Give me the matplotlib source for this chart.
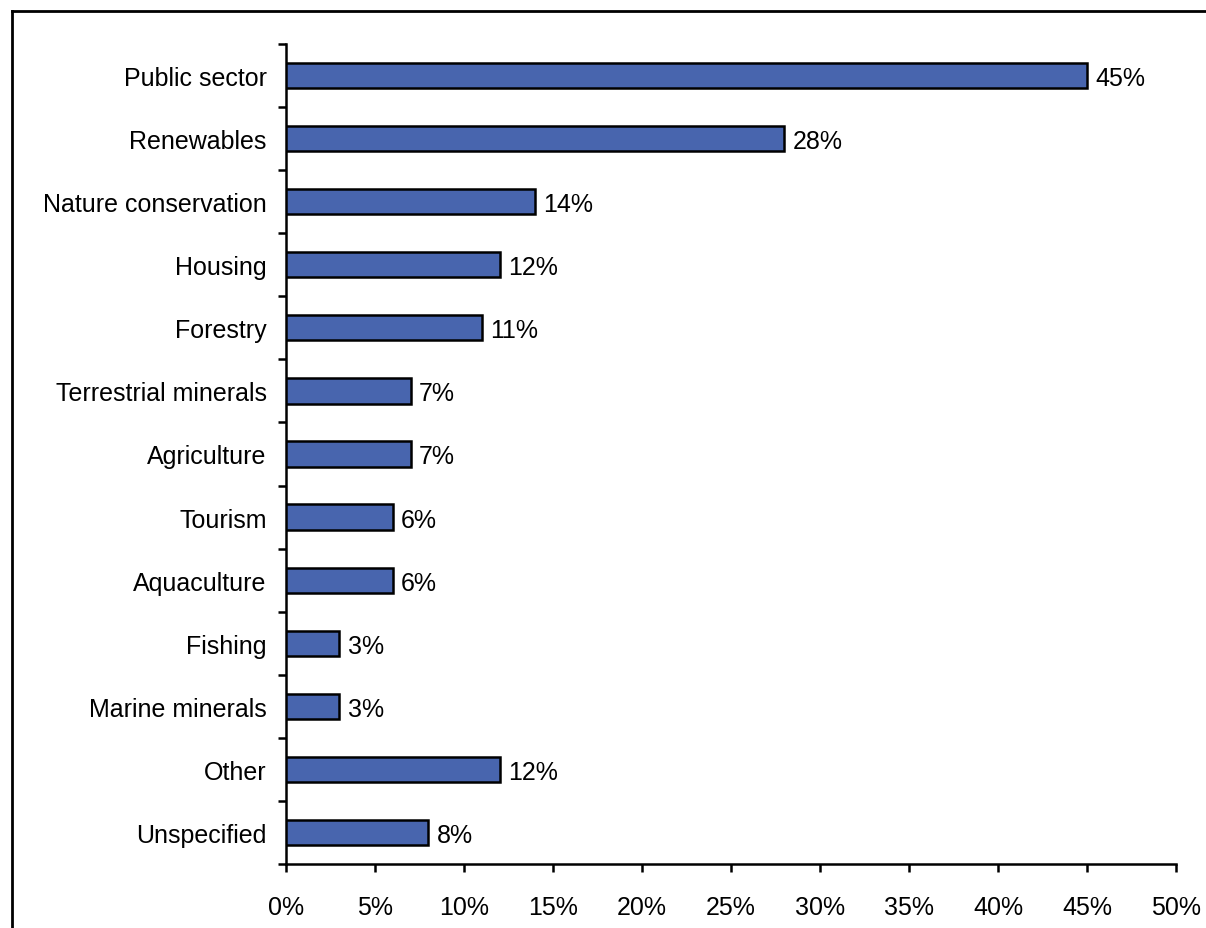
import matplotlib
matplotlib.use("Agg")
import matplotlib.pyplot as plt
from matplotlib.lines import Line2D
from matplotlib.ticker import FixedLocator, PercentFormatter

categories = [
    "Public sector", "Renewables", "Nature conservation", "Housing", "Forestry",
    "Terrestrial minerals", "Agriculture", "Tourism", "Aquaculture", "Fishing",
    "Marine minerals", "Other", "Unspecified",
]
shares = [45, 28, 14, 12, 11, 7, 7, 6, 6, 3, 3, 12, 8]
x_ticks = [0, 5, 10, 15, 20, 25, 30, 35, 40, 45, 50]

plt.rcParams["font.family"] = ["Liberation Sans", "DejaVu Sans"]
FS = 18

fig = plt.figure(figsize=(12.06, 9.29), dpi=100)
ax = fig.add_axes([286 / 1206, 1 - 865 / 929, 890 / 1206, 820 / 929])

n = len(categories)
pos = list(range(n))
ax.barh(pos, shares, height=0.4, color="#4865AE", edgecolor="black", linewidth=1.8, zorder=3)
for y, v in zip(pos, shares):
    ax.annotate(f"{v}%", (v, y), xytext=(6, 0), textcoords="offset points",
                va="center_baseline", ha="left", fontsize=FS)

ax.set_ylim(n - 0.5, -0.5)
ax.set_xlim(0, 50)
ax.set_yticks(pos)
ax.set_yticklabels(categories, fontsize=FS)
ax.yaxis.set_minor_locator(FixedLocator([i - 0.5 for i in range(n + 1)]))
ax.tick_params(axis="y", which="major", length=0, pad=14)
ax.tick_params(axis="y", which="minor", length=6, width=1.8, direction="out")

ax.set_xticks(x_ticks)
ax.xaxis.set_major_formatter(PercentFormatter(decimals=0))
ax.tick_params(axis="x", which="major", length=6, width=1.8, direction="out", labelsize=FS, pad=16)

for side in ("top", "right"):
    ax.spines[side].set_visible(False)
for side in ("left", "bottom"):
    ax.spines[side].set_linewidth(1.8)

# outer frame around the figure, opening to the right and bottom
fig.add_artist(Line2D([12 / 1206, 12 / 1206], [1 - 12 / 929, -0.01], color="black", lw=2,
                      transform=fig.transFigure))
fig.add_artist(Line2D([12 / 1206, 1.01], [1 - 12 / 929, 1 - 12 / 929], color="black", lw=2,
                      transform=fig.transFigure))

fig.savefig("out.png", dpi=100)
